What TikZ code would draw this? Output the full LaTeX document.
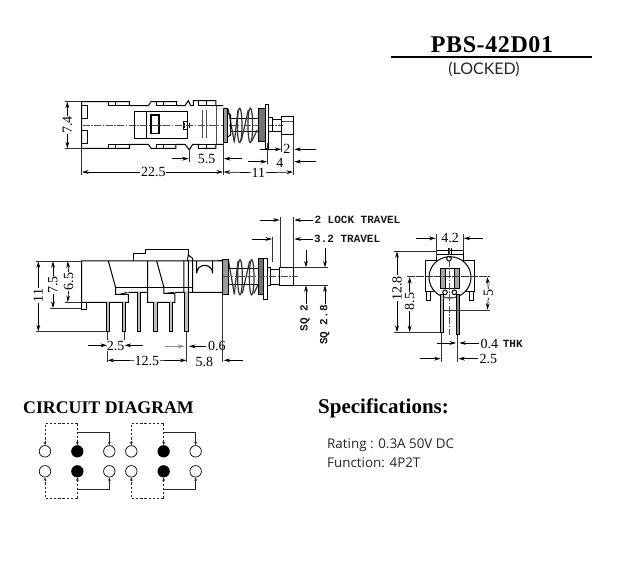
\documentclass[tikz,border=0pt]{standalone}
\usepackage{fontspec}
\setmainfont{Liberation Serif}
\newfontfamily\monof{Liberation Mono}
\newfontfamily\sansf{Open Sans}
\newfontfamily\gothf{Lato}
\usetikzlibrary{arrows.meta}
\tikzset{
  part/.style={line width=1pt,black},
  thin part/.style={line width=.7pt,black!70},
  ext/.style={line width=.6pt,black!80},
  dimline/.style={line width=.7pt,black,-{Stealth[length=6.5pt,width=3.8pt]}},
  center line/.style={line width=.5pt,black!70,dash pattern=on 7pt off 1.5pt on 1.5pt off 1.5pt},
  coil/.style={line width=1.2pt,black!80,line join=round},
  dimtext/.style={font=\fontsize{14}{14}\selectfont,inner sep=.5pt,fill=white,text=black},
  marktext/.style={font=\fontsize{11}{11}\selectfont\monof\bfseries,inner sep=0pt,text=black!90},
  term/.style={circle,draw=black,line width=.7pt,minimum size=11.5pt,inner sep=0pt,fill=white},
  termon/.style={term,fill=black},
  link/.style={line width=.75pt,black!85,-{Stealth[length=3.5pt,width=2.8pt]}},
  dashlink/.style={link,dash pattern=on 2.4pt off 1.8pt},
}
\begin{document}
\begin{tikzpicture}[x=1pt,y=-1pt]
\fill[white] (0,0) rectangle (617,567);
\useasboundingbox (0,0) rectangle (617,567);

% ---- title
\node[font=\fontsize{24}{24}\selectfont\bfseries\addfontfeature{LetterSpace=2.5},inner sep=0pt] (title) at (492,45) {PBS-42D01};
\draw[line width=2.2pt] (391,57) -- (592,57);
\node[font=\fontsize{16}{16}\selectfont\gothf,inner sep=0pt,text=black!85] (locked) at (484,69.5) {(LOCKED)};

% ---- top view
\begin{scope}[shift={(50pt,-80pt)},x=.3333pt,y=-.3333pt]
\draw[part] (95,205) -- (95,65) -- (175,65) -- (238,65) -- (238,77) -- (295,77) -- (303,65) -- (380,65) -- (380,77) -- (405,77) -- (415,62) -- (422,77) -- (430,77) -- (430,62) -- (498,62) -- (498,77) -- (520,77);
\draw[part] (95,205) -- (175,205) -- (238,205) -- (238,193) -- (295,193) -- (303,205) -- (378,205) -- (378,193) -- (405,193) -- (418,210) -- (428,193) -- (445,193) -- (445,205) -- (498,205) -- (498,193) -- (520,193);
\draw[part] (175,65) -- (175,77) -- (238,77) (198,65) -- (198,77) (175,205) -- (175,193) -- (238,193) (198,193) -- (198,205) (320,65) -- (320,77) -- (380,77) (340,65) -- (340,77) (320,205) -- (320,193) -- (378,193) (340,193) -- (340,205) (445,62) -- (445,77) -- (498,77) (470,62) -- (470,77) (445,193) -- (498,193) (470,193) -- (470,205);
\draw[part] (95,78) -- (113,78) -- (113,117) -- (95,117) (95,152) -- (113,152) -- (113,190) -- (95,190);
\draw[part] (253,95) -- (413,95) -- (413,175) -- (253,175) -- cycle (290,95) -- (290,175);
\draw[part,line width=1.2pt] (303,105) -- (327,105) -- (327,160) -- (303,160) -- cycle;
\draw[part] (413,125) -- (400,125) -- (400,150) -- (413,150);
\draw[part] (405,128) -- (405,145) (412,128) -- (412,145) (420,128) -- (420,145);
\draw[thin part] (458,90) -- (458,175) (470,90) -- (470,175) (498,77) -- (498,193);
\draw[center line] (98,135) -- (700,135);
% spring
\draw[part] (540,115) -- (627,115) (540,155) -- (627,155);
\draw[coil] (535,88) -- (553,187);
\draw[coil] (569,136) ellipse[x radius=7,y radius=52];
\draw[coil] (601,136) ellipse[x radius=7,y radius=52];
\draw[coil] (553,187) -- (564,90) (574,182) -- (595,90) (606,182) -- (622,150);
\draw[part,fill=black!40] (522,85) rectangle (534,187);
\draw[part] (534,100) -- (542,105) -- (542,165) -- (534,170);
\draw[part,fill=black!55] (627,85) rectangle (647,185);
\draw[part,fill=white] (647,75) rectangle (656,205);
\draw[part] (656,112) -- (668,112) -- (668,155) -- (656,155);
\draw[part] (668,118) -- (695,118) (668,155) -- (695,155);
\draw[part] (695,110) -- (730,110) -- (730,165) -- (695,165) -- cycle;
\draw[thin part] (695,125) -- (730,125);
% dims
\draw[ext] (45,65) -- (95,65) (45,205) -- (95,205)
  (95,205) -- (95,285) (520,185) -- (520,285) (730,165) -- (730,285)
  (417,205) -- (417,245) (695,165) -- (695,215) (652,190) -- (652,252);
\node[dimtext,rotate=90] (d74) at (52,135) {7.4};
\draw[dimline] (d74.east) -- (52,65);
\draw[dimline] (d74.west) -- (52,205);
\node[dimtext] (d225) at (310,276) {22.5};
\draw[dimline] (d225.west) -- (96,276);
\draw[dimline] (d225.east) -- (519,276);
\node[dimtext] (d11) at (625,278) {11};
\draw[dimline] (d11.west) -- (521,276);
\draw[dimline] (d11.east) -- (729,276);
\node[dimtext] (d55) at (470,238) {5.5};
\draw[dimline] (365,236) -- (416,236);
\draw[dimline] (575,236) -- (522,236);
\node[dimtext] (d2) at (711,208) {2};
\draw[dimline] (630,208) -- (694,208);
\draw[dimline] (798,208) -- (733,208);
\node[dimtext] (d4) at (690,250) {4};
\draw[dimline] (595,245) -- (651,245);
\draw[dimline] (798,245) -- (733,245);
\end{scope}

% ---- side view left
\begin{scope}[shift={(20pt,-205pt)},x=.3333pt,y=-.3333pt]
\draw[part] (610,168) -- (185,168) -- (185,292) -- (325,292) -- (325,268) -- (287,268) -- (287,248) -- (265,168);
\draw[part] (287,248) -- (520,248) (340,168) -- (340,147) -- (378,147) -- (378,133) -- (505,133) -- (505,150);
\draw[part] (383,168) -- (383,292) -- (465,292) -- (465,265) -- (432,265) -- (432,248) -- (410,168);
\draw[part] (325,262) -- (383,262) (465,262) -- (610,262) (492,168) -- (492,262) (518,262) -- (518,160) -- (505,150) -- (502,168) (505,262) -- (505,168);
\draw[part] (185,292) -- (185,313) -- (200,313) -- (200,292);
\draw[part] (300,268) -- (322,262) (440,265) -- (462,262);
\draw[part,line width=1.1pt] (530,168) -- (530,205) arc[start angle=180,end angle=0,x radius=24,y radius=-24] -- (578,168);
\foreach \p/\t in {258/292,306/292,351/262,400/292,447/292,494/262}{
  \draw[part,line width=.8pt,fill=black!25] (\p,\t) -- (\p,380) -- (\p+11,380) -- (\p+11,\t);
}
\draw[ext] (47,168) -- (185,168) (47,380) -- (258,380) (90,310) -- (185,310) (135,292) -- (185,292)
  (262,380) -- (262,472) (313,380) -- (313,432) (500,380) -- (500,472);
\node[dimtext,rotate=90] (d11b) at (55,272) {11};
\draw[dimline] (d11b.east) -- (55,169);
\draw[dimline] (d11b.west) -- (55,379);
\node[dimtext,rotate=90] (d75) at (99,240) {7.5};
\draw[dimline] (d75.east) -- (99,169);
\draw[dimline] (d75.west) -- (99,309);
\node[dimtext,rotate=90] (d65) at (146,230) {6.5};
\draw[dimline] (d65.east) -- (143,169);
\draw[dimline] (d65.west) -- (143,291);
\node[dimtext] (d25) at (287,422) {2.5};
\draw[dimline] (205,421) -- (261,421);
\draw[dimline] (370,421) -- (314,421);
\node[dimtext] (d125) at (381,467) {12.5};
\draw[dimline] (d125.west) -- (263,466);
\draw[dimline] (d125.east) -- (499,466);
\draw[dimline,black!45] (435,424) -- (494,424);
\draw[dimline] (558,424) -- (507,424);
\node[dimtext,anchor=west,fill=none] (d06) at (562,424) {0.6};
\node[dimtext,fill=none] (d58) at (553,471) {5.8};
\end{scope}

% ---- plunger of side view
\begin{scope}[shift={(200pt,-205pt)},x=.3333pt,y=-.3333pt]
\draw[part] (55,168) -- (70,168) (55,262) -- (70,262);
\draw[part] (84,190) -- (175,190) (84,240) -- (175,240);
\draw[coil] (85,165) -- (103,268);
\draw[coil] (120,217) ellipse[x radius=7,y radius=53];
\draw[coil] (155,217) ellipse[x radius=7,y radius=53];
\draw[coil] (103,268) -- (114,168) (127,265) -- (149,168) (162,265) -- (176,235);
\draw[part,fill=black!40] (68,163) rectangle (84,268);
\draw[part,fill=black!55] (175,160) rectangle (197,270);
\draw[part,fill=white] (190,160) rectangle (203,285);
\draw[part] (203,188) -- (213,188) -- (213,242) -- (203,242) (213,195) -- (240,195) (213,240) -- (240,240);
\draw[part] (240,188) -- (280,188) -- (280,243) -- (240,243) -- cycle;
\draw[center line] (70,215) -- (295,215);
\draw[ext] (240,35) -- (240,188) (280,35) -- (280,188) (218,95) -- (218,172)
  (280,188) -- (385,188) (280,240) -- (385,240) (68,268) -- (68,472);
\draw[dimline] (180,45) -- (239,45);
\draw[dimline] (340,45) -- (283,45);
\draw[dimline] (155,102) -- (216,102);
\draw[dimline] (340,102) -- (283,102);
\node[marktext,anchor=west] (lock) at (343,46) {2 LOCK TRAVEL};
\node[marktext,anchor=west] (trav) at (342,103) {3.2 TRAVEL};
\draw[dimline] (318,135) -- (318,187);
\draw[dimline] (318,298) -- (318,241);
\draw[dimline] (375,130) -- (375,187);
\draw[dimline] (375,298) -- (375,241);
\node[marktext,rotate=90,anchor=east] (sq2) at (315,300) {SQ 2};
\node[marktext,rotate=90,anchor=east] (sq28) at (374,300) {SQ 2.8};
\draw[dimline] (130,466) -- (71,466);
\end{scope}

% ---- end view
\begin{scope}[shift={(380pt,-220pt)},x=.3333pt,y=-.3333pt]
\draw[part] (135,215) -- (135,122) -- (170,122) -- (170,93) -- (250,93) -- (250,122) -- (285,122) -- (285,215) -- cycle;
\draw[part,fill=white] (210,172) circle[x radius=63,y radius=62];
\draw[part] (170,105) -- (250,105) (205,83) -- (205,105) (215,83) -- (215,105);
\draw[part,fill=white] (207,116) circle[radius=7];
\draw[part,fill=black!35] (182,145) rectangle (238,205);
\draw[part,fill=white] (197,145) rectangle (222,205);
\draw[part,fill=white] (195,217) circle[radius=7] (223,217) circle[radius=7];
\draw[part] (150,215) -- (150,242) -- (138,242) -- (138,215) (268,215) -- (268,242) -- (280,242) -- (280,215);
\draw[part,fill=black!25] (181,225) rectangle (190,337);
\draw[part,fill=black!45] (228,225) rectangle (237,345);
\draw[thin part] (190,232) -- (228,232) (190,270) -- (228,270);
\draw[center line] (208,85) -- (208,345);
\draw[ext,dash pattern=on 8pt off 1pt] (82,170) -- (330,170);
\draw[ext] (42,93) -- (170,93) (42,337) -- (181,337) (190,270) -- (330,270)
  (168,42) -- (168,110) (250,42) -- (250,95)
  (184,337) -- (184,425) (232,345) -- (232,425);
\node[dimtext,fill=none] (d42) at (210,55) {4.2};
\draw[dimline] (108,55) -- (167,55);
\draw[dimline] (310,55) -- (251,55);
\node[dimtext,rotate=90] (d128) at (51,205) {12.8};
\draw[dimline] (d128.east) -- (51,94);
\draw[dimline] (d128.west) -- (51,336);
\node[dimtext,rotate=90] (d85) at (89,245) {8.5};
\draw[dimline] (d85.east) -- (89,171);
\draw[dimline] (d85.west) -- (89,336);
\node[dimtext,rotate=90] (d5) at (325,220) {5};
\draw[dimline] (d5.east) -- (322,171);
\draw[dimline] (d5.west) -- (322,269);
\draw[dimline] (170,369) -- (228,369);
\draw[dimline] (298,369) -- (238,369);
\node[dimtext,anchor=west,fill=none] (d04) at (300,373) {0.4};
\node[marktext,anchor=west] (thk) at (368,373) {THK};
\draw[dimline] (120,416) -- (182,416);
\draw[dimline] (295,416) -- (235,416);
\node[dimtext,anchor=west,fill=none] (d25b) at (297,418) {2.5};
\end{scope}

% ---- circuit
\node[font=\fontsize{17.8}{18}\selectfont\bfseries,anchor=west,inner sep=0pt] (circ) at (23,407.5) {CIRCUIT DIAGRAM};
\begin{scope}[shift={(15pt,-395pt)},x=.3333pt,y=-.3333pt]
\foreach \o/\n in {0/a,259/b}{
  \node[term] (\n1) at (90+\o,169) {};
  \node[termon] (\n2) at (187+\o,169) {};
  \node[term] (\n3) at (283+\o,169) {};
  \node[term] (\n4) at (90+\o,229) {};
  \node[termon] (\n5) at (187+\o,229) {};
  \node[term] (\n6) at (283+\o,229) {};
  \coordinate (\n tl) at (90+\o,85);
  \coordinate (\n tr) at (187+\o,85);
  \coordinate (\n bl) at (90+\o,311);
  \coordinate (\n br) at (187+\o,311);
  \coordinate (\n sa) at (187+\o,113);
  \coordinate (\n sb) at (283+\o,113);
  \coordinate (\n sc) at (187+\o,283);
  \coordinate (\n sd) at (283+\o,283);
  \draw[dashlink] (\n tr) -- (\n tl) -- (\n1);
  \draw[dashlink] (\n tr) -- (\n2);
  \draw[dashlink] (\n br) -- (\n bl) -- (\n4);
  \draw[dashlink] (\n br) -- (\n5);
  \draw[link] (\n sa) -- (\n sb) -- (\n3);
  \draw[link] (\n sc) -- (\n sd) -- (\n6);
}
\end{scope}

% ---- specifications
\node[font=\fontsize{21}{21}\selectfont\bfseries,anchor=west,inner sep=0pt] (spec) at (318,408) {Specifications:};
\node[font=\fontsize{13.4}{14}\selectfont\sansf,anchor=west,inner sep=0pt,text=black!85] (rate) at (327,445) {Rating : 0.3A 50V DC};
\node[font=\fontsize{13.4}{14}\selectfont\sansf,anchor=west,inner sep=0pt,text=black!85] (func) at (327,463) {Function: 4P2T};
\end{tikzpicture}
\end{document}
